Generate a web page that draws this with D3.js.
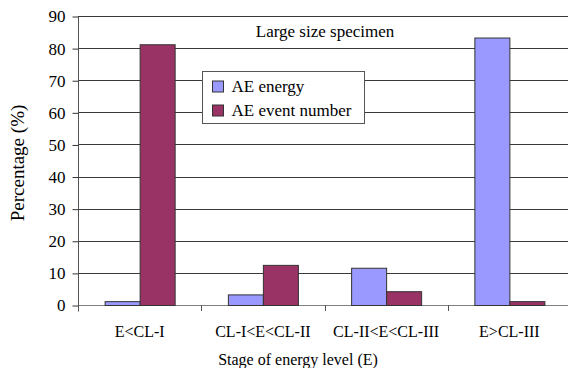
<!DOCTYPE html>
<html>
<head>
<meta charset="utf-8">
<script src="https://cdn.jsdelivr.net/npm/d3@7"></script>
<style>
  html, body { margin: 0; padding: 0; background: #fff; }
</style>
</head>
<body>
<svg id="chart" width="568" height="368"></svg>
<script>
// Share of AE energy and AE event count in each energy-level stage
const categories = ["E<CL-I", "CL-I<E<CL-II", "CL-II<E<CL-III", "E>CL-III"];
const seriesNames = ["AE energy", "AE event number"];
const aeEnergy = [1.2, 3.3, 11.6, 83.3];
const aeEventNumber = [81.2, 12.5, 4.3, 1.2];
const yTicks = [0, 10, 20, 30, 40, 50, 60, 70, 80, 90];
const colors = ["#9999ff", "#993366"];

const series = [aeEnergy, aeEventNumber];
const serif = "Liberation Serif";

const svg = d3.select("#chart");
const margin = { left: 78, top: 16, bottom: 305 };
const rightEdge = 571;

const x = d3.scaleBand().domain(categories).range([margin.left, rightEdge]).paddingInner(0).paddingOuter(0);
const inner = d3.scaleBand().domain(d3.range(series.length)).range([0, x.bandwidth()]).paddingInner(0).paddingOuter(0.76);
const y = d3.scaleLinear().domain([0, 90]).range([margin.bottom, margin.top]);

// horizontal gridlines
svg.append("g")
  .selectAll("line")
  .data(yTicks)
  .join("line")
  .attr("x1", margin.left)
  .attr("x2", 568)
  .attr("y1", d => Math.round(y(d)) + 0.5)
  .attr("y2", d => Math.round(y(d)) + 0.5)
  .attr("stroke", d => d === 0 ? "#808080" : "#3a3a3a")
  .attr("stroke-width", 1);

// bars
const groups = svg.append("g")
  .selectAll("g")
  .data(categories)
  .join("g")
  .attr("transform", d => `translate(${x(d)},0)`);

groups.selectAll("rect")
  .data((d, i) => series.map((s, k) => ({ k, v: s[i] })))
  .join("rect")
  .attr("x", d => inner(d.k) + 0.5)
  .attr("y", d => y(d.v) + 0.5)
  .attr("width", inner.bandwidth())
  .attr("height", d => y(0) - y(d.v))
  .attr("fill", d => colors[d.k])
  .attr("stroke", "#333")
  .attr("stroke-width", 1);

// y axis
const yAxis = d3.axisLeft(y).tickValues(yTicks).tickSize(6).tickPadding(7);
const gy = svg.append("g")
  .attr("transform", `translate(${margin.left + 0.5},0.5)`)
  .call(yAxis);
gy.select(".domain").attr("d", `M0,${margin.top}V${margin.bottom + 6}`).attr("stroke", "#555");
gy.selectAll(".tick line").attr("stroke", "#333");
gy.selectAll(".tick text")
  .attr("fill", "#000")
  .style("font-family", serif)
  .style("font-size", "17px");

// x axis ticks at category boundaries
const xAxisG = svg.append("g");
xAxisG.selectAll("line")
  .data(categories.slice(1))
  .join("line")
  .attr("x1", d => Math.round(x(d)) + 0.5)
  .attr("x2", d => Math.round(x(d)) + 0.5)
  .attr("y1", margin.bottom)
  .attr("y2", margin.bottom + 6)
  .attr("stroke", "#555");

xAxisG.selectAll("text")
  .data(categories)
  .join("text")
  .attr("x", d => x(d) + x.bandwidth() / 2)
  .attr("y", 337)
  .attr("text-anchor", "middle")
  .attr("fill", "#000")
  .style("font-family", serif)
  .style("font-size", "16px")
  .text(d => d);

// axis titles
svg.append("text")
  .attr("x", 298)
  .attr("y", 365)
  .attr("text-anchor", "middle")
  .style("font-family", serif)
  .style("font-size", "16px")
  .text("Stage of energy level (E)");

svg.append("text")
  .attr("transform", "translate(24,163) rotate(-90)")
  .attr("text-anchor", "middle")
  .style("font-family", serif)
  .style("font-size", "19px")
  .text("Percentage (%)");

// chart label
svg.append("rect")
  .attr("x", 250).attr("y", 22).attr("width", 152).attr("height", 20)
  .attr("fill", "#fff");
svg.append("text")
  .attr("x", 325)
  .attr("y", 37)
  .attr("text-anchor", "middle")
  .style("font-family", serif)
  .style("font-size", "17px")
  .text("Large size specimen");

// legend
const legend = svg.append("g").attr("transform", "translate(202.5,71.5)");
legend.append("rect")
  .attr("width", 162).attr("height", 52)
  .attr("fill", "#fff").attr("stroke", "#555");
const items = legend.selectAll("g")
  .data(seriesNames)
  .join("g")
  .attr("transform", (d, i) => `translate(10,${15 + i * 24})`);
items.append("rect")
  .attr("x", 0).attr("y", -5.5)
  .attr("width", 11).attr("height", 11)
  .attr("fill", (d, i) => colors[i])
  .attr("stroke", "#333");
items.append("text")
  .attr("x", 19)
  .attr("y", 5.5)
  .style("font-family", serif)
  .style("font-size", "17px")
  .text(d => d);
</script>
</body>
</html>
